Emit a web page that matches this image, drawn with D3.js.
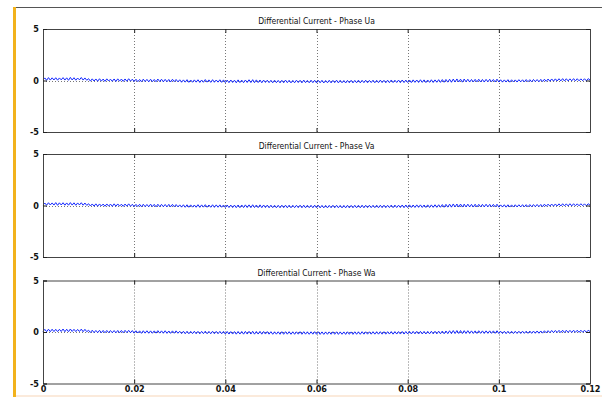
<!DOCTYPE html>
<html lang="en">
<head>
<meta charset="UTF-8">
<title>Differential Current</title>
<script src="https://d3js.org/d3.v7.min.js"></script>
<style>
  body { margin: 0; background: #fff; }
  svg { display: block; }
  .tick text { font-family: "DejaVu Sans Condensed", "Liberation Sans Narrow", Arial, sans-serif; font-size: 9px; font-weight: bold; fill: #111; }
  .title { font-family: "DejaVu Sans Condensed", "Liberation Sans Narrow", Arial, sans-serif; font-size: 8.5px; fill: #111; }
</style>
</head>
<body>
<div id="chart"></div>
<script>
// sample step of the traces, seconds
const sampleStep = 0.0004;

const panelTitles = [
  "Differential Current - Phase Ua",
  "Differential Current - Phase Va",
  "Differential Current - Phase Wa"
];
const xTicks = [0, 0.02, 0.04, 0.06, 0.08, 0.1, 0.12];
const xTickLabels = ["0", "0.02", "0.04", "0.06", "0.08", "0.1", "0.12"];
const yTicks = [-5, 0, 5];
const yTickLabels = ["-5", "0", "5"];

// differential current (one row = 0.01 s)
const uaDiff = [
  0.05,0.25,0.02,0.28,0.04,0.26,0.05,0.27,0.03,0.25,0.06,0.28,0.04,0.26,0.02,0.3,0.05,0.27,0.03,0.24,0.06,0.29,0.04,0.25,0.02,
  0.18,-0.06,0.16,-0.05,0.15,-0.07,0.17,-0.06,0.14,-0.08,0.16,-0.05,0.13,-0.07,0.15,-0.09,0.16,-0.06,0.14,-0.08,0.15,-0.07,0.17,-0.06,0.13,
  -0.1,0.12,-0.11,0.1,-0.12,0.13,-0.1,0.11,-0.13,0.12,-0.11,0.1,-0.12,0.14,-0.1,0.12,-0.13,0.11,-0.12,0.1,-0.14,0.12,-0.11,0.1,-0.13,
  0.07,-0.17,0.06,-0.16,0.08,-0.18,0.05,-0.17,0.06,-0.16,0.07,-0.19,0.05,-0.17,0.09,-0.16,0.06,-0.18,0.08,-0.17,0.05,-0.16,0.07,-0.18,0.06,
  -0.2,0.04,-0.21,0.05,-0.19,0.03,-0.22,0.06,-0.2,0.04,-0.21,0.05,-0.19,0.07,-0.2,0.08,-0.21,0.06,-0.2,0.05,-0.22,0.04,-0.19,0.03,-0.21,
  0.02,-0.22,0.03,-0.21,0.01,-0.23,0.02,-0.22,0.04,-0.21,0.02,-0.23,0.01,-0.22,0.03,-0.2,0.02,-0.23,0.04,-0.21,0.01,-0.22,0.03,-0.21,0.02,
  -0.23,0.01,-0.22,0.02,-0.24,0.0,-0.22,0.02,-0.23,0.01,-0.21,0.03,-0.23,0.02,-0.22,0.0,-0.24,0.01,-0.22,0.02,-0.23,0.01,-0.22,0.03,-0.23,
  0.02,-0.21,0.03,-0.22,0.01,-0.2,0.03,-0.22,0.02,-0.21,0.04,-0.2,0.02,-0.22,0.03,-0.21,0.05,-0.2,0.03,-0.19,0.04,-0.21,0.05,-0.2,0.04,
  -0.19,0.05,-0.2,0.06,-0.18,0.05,-0.19,0.07,-0.18,0.06,-0.2,0.05,-0.18,0.07,-0.19,0.06,-0.17,0.08,-0.18,0.09,-0.17,0.1,-0.16,0.12,-0.17,
  0.14,-0.15,0.15,-0.14,0.13,-0.16,0.14,-0.13,0.12,-0.15,0.1,-0.14,0.11,-0.13,0.12,-0.14,0.1,-0.15,0.11,-0.13,0.12,-0.12,0.1,-0.14,0.13,
  -0.15,0.07,-0.16,0.06,-0.15,0.08,-0.16,0.07,-0.14,0.06,-0.15,0.08,-0.13,0.07,-0.14,0.09,-0.12,0.08,-0.13,0.1,-0.11,0.09,-0.12,0.11,-0.1,
  0.12,-0.08,0.14,-0.07,0.15,-0.06,0.16,-0.05,0.17,-0.04,0.18,-0.05,0.17,-0.04,0.16,-0.03,0.18,-0.04,0.17,-0.03,0.16,-0.02,0.17,-0.03,0.18,
  0.05
];
const vaDiff = [
  0.04,0.24,0.03,0.27,0.05,0.25,0.04,0.28,0.02,0.26,0.05,0.27,0.03,0.25,0.03,0.28,0.04,0.26,0.02,0.25,0.05,0.27,0.03,0.24,0.01,
  0.17,-0.05,0.15,-0.06,0.16,-0.07,0.15,-0.05,0.14,-0.07,0.15,-0.06,0.14,-0.08,0.16,-0.07,0.15,-0.06,0.13,-0.08,0.14,-0.06,0.16,-0.07,0.12,
  -0.11,0.11,-0.1,0.12,-0.12,0.12,-0.11,0.1,-0.12,0.13,-0.1,0.11,-0.13,0.12,-0.11,0.11,-0.12,0.1,-0.13,0.11,-0.12,0.11,-0.12,0.09,-0.13,
  0.06,-0.16,0.07,-0.17,0.07,-0.17,0.06,-0.16,0.05,-0.17,0.08,-0.18,0.06,-0.16,0.08,-0.17,0.05,-0.17,0.07,-0.18,0.06,-0.17,0.06,-0.17,0.05,
  -0.19,0.05,-0.2,0.04,-0.2,0.04,-0.21,0.05,-0.21,0.05,-0.2,0.06,-0.2,0.06,-0.21,0.07,-0.2,0.05,-0.21,0.06,-0.21,0.05,-0.2,0.04,-0.22,
  0.03,-0.21,0.02,-0.22,0.02,-0.22,0.03,-0.21,0.03,-0.22,0.03,-0.22,0.02,-0.21,0.02,-0.21,0.03,-0.22,0.03,-0.22,0.02,-0.21,0.02,-0.22,0.03,
  -0.22,0.02,-0.23,0.01,-0.23,0.01,-0.23,0.01,-0.22,0.02,-0.22,0.02,-0.22,0.01,-0.23,0.01,-0.23,0.02,-0.23,0.01,-0.22,0.02,-0.22,0.02,-0.22,
  0.03,-0.22,0.02,-0.21,0.02,-0.21,0.02,-0.21,0.03,-0.22,0.03,-0.21,0.03,-0.21,0.02,-0.2,0.04,-0.21,0.04,-0.2,0.03,-0.2,0.05,-0.21,0.05,
  -0.2,0.06,-0.19,0.05,-0.19,0.06,-0.18,0.06,-0.19,0.05,-0.19,0.06,-0.19,0.06,-0.18,0.07,-0.18,0.07,-0.17,0.09,-0.17,0.11,-0.16,0.13,-0.16,
  0.15,-0.14,0.14,-0.15,0.14,-0.15,0.13,-0.14,0.13,-0.14,0.11,-0.15,0.12,-0.14,0.11,-0.13,0.11,-0.14,0.12,-0.13,0.11,-0.13,0.11,-0.13,0.12,
  -0.16,0.06,-0.15,0.07,-0.16,0.07,-0.15,0.06,-0.15,0.07,-0.14,0.07,-0.14,0.08,-0.13,0.08,-0.13,0.09,-0.12,0.09,-0.12,0.1,-0.11,0.1,-0.11,
  0.13,-0.07,0.13,-0.06,0.14,-0.06,0.15,-0.05,0.16,-0.05,0.17,-0.04,0.16,-0.04,0.17,-0.04,0.17,-0.03,0.16,-0.03,0.17,-0.02,0.16,-0.03,0.17,
  0.04
];
const waDiff = [
  0.05,0.26,0.03,0.27,0.03,0.27,0.04,0.26,0.04,0.26,0.05,0.29,0.03,0.27,0.03,0.29,0.05,0.26,0.04,0.25,0.05,0.28,0.03,0.26,0.03,
  0.17,-0.05,0.17,-0.06,0.15,-0.06,0.16,-0.07,0.15,-0.07,0.15,-0.06,0.14,-0.07,0.14,-0.08,0.15,-0.07,0.15,-0.07,0.16,-0.06,0.16,-0.07,0.14,
  -0.11,0.12,-0.1,0.11,-0.13,0.12,-0.11,0.12,-0.12,0.11,-0.12,0.11,-0.11,0.13,-0.11,0.11,-0.12,0.12,-0.13,0.1,-0.13,0.11,-0.12,0.11,-0.12,
  0.07,-0.16,0.07,-0.17,0.07,-0.17,0.06,-0.16,0.07,-0.17,0.06,-0.18,0.06,-0.16,0.08,-0.17,0.06,-0.17,0.07,-0.17,0.06,-0.17,0.06,-0.17,0.06,
  -0.2,0.05,-0.2,0.04,-0.2,0.04,-0.21,0.05,-0.2,0.05,-0.21,0.06,-0.2,0.06,-0.2,0.07,-0.21,0.05,-0.2,0.06,-0.21,0.05,-0.2,0.04,-0.21,
  0.03,-0.22,0.02,-0.21,0.02,-0.22,0.03,-0.22,0.03,-0.21,0.03,-0.22,0.02,-0.22,0.02,-0.21,0.03,-0.22,0.03,-0.21,0.02,-0.22,0.02,-0.21,0.03,
  -0.22,0.02,-0.23,0.01,-0.23,0.01,-0.22,0.01,-0.22,0.02,-0.22,0.02,-0.23,0.01,-0.22,0.01,-0.23,0.02,-0.22,0.01,-0.23,0.02,-0.22,0.02,-0.22,
  0.03,-0.21,0.02,-0.21,0.02,-0.21,0.03,-0.21,0.03,-0.21,0.03,-0.21,0.03,-0.21,0.03,-0.2,0.04,-0.21,0.04,-0.2,0.04,-0.2,0.05,-0.2,0.05,
  -0.19,0.06,-0.19,0.06,-0.18,0.06,-0.19,0.06,-0.19,0.06,-0.19,0.06,-0.18,0.07,-0.18,0.07,-0.18,0.08,-0.17,0.09,-0.17,0.1,-0.16,0.12,-0.16,
  0.14,-0.15,0.14,-0.14,0.14,-0.15,0.13,-0.14,0.13,-0.14,0.11,-0.14,0.11,-0.14,0.12,-0.13,0.11,-0.14,0.11,-0.13,0.11,-0.13,0.11,-0.13,0.12,
  -0.15,0.07,-0.15,0.07,-0.16,0.07,-0.15,0.07,-0.15,0.07,-0.14,0.07,-0.14,0.08,-0.13,0.08,-0.13,0.09,-0.13,0.09,-0.12,0.1,-0.12,0.1,-0.11,
  0.12,-0.08,0.13,-0.07,0.15,-0.06,0.15,-0.05,0.16,-0.05,0.17,-0.05,0.17,-0.04,0.16,-0.04,0.17,-0.03,0.17,-0.03,0.17,-0.02,0.17,-0.03,0.17,
  0.05
];
const seriesList = [uaDiff, vaDiff, waDiff];

const W = 602, H = 397;
const plotLeft = 43, plotRight = 590;
const panelTops = [29, 154, 280.5];
const panelH = 103;

const svg = d3.select('#chart').append('svg')
  .attr('width', W)
  .attr('height', H);

// window frame: grey top edge, orange left bar, pale bottom strip
svg.append('line')
  .attr('x1', 14).attr('x2', W).attr('y1', 7.5).attr('y2', 7.5)
  .style('stroke', '#555').style('stroke-width', 1);
svg.append('rect')
  .attr('x', 13).attr('y', 7).attr('width', 3).attr('height', H - 7)
  .attr('fill', '#f2b21c');
svg.append('rect')
  .attr('x', 16).attr('y', 395).attr('width', W - 16).attr('height', 2)
  .attr('fill', '#fbeadb');

const xScale = d3.scaleLinear()
  .domain([0, 0.12])
  .range([plotLeft, plotRight]);

seriesList.forEach(function(values, p) {
  const top = panelTops[p];
  const yScale = d3.scaleLinear()
    .domain([-5, 5])
    .range([top + panelH, top]);

  const g = svg.append('g');

  // dotted grid
  g.selectAll('.vgrid')
    .data(xTicks.slice(1, -1))
    .enter().append('line')
    .attr('x1', d => Math.round(xScale(d)) + 0.5)
    .attr('x2', d => Math.round(xScale(d)) + 0.5)
    .attr('y1', top).attr('y2', top + panelH)
    .style('stroke', '#777').style('stroke-width', 1)
    .style('stroke-dasharray', '1,2');
  g.append('line')
    .attr('x1', plotLeft).attr('x2', plotRight)
    .attr('y1', Math.round(yScale(0)) + 0.5).attr('y2', Math.round(yScale(0)) + 0.5)
    .style('stroke', '#777').style('stroke-width', 1)
    .style('stroke-dasharray', '1,2');

  // trace
  const line = d3.line()
    .x((d, i) => xScale(i * sampleStep))
    .y(d => yScale(d));
  g.append('path')
    .datum(values)
    .attr('d', line)
    .attr('fill', 'none')
    .style('stroke', '#1428ff')
    .style('stroke-width', 1);

  // axes with inward ticks
  const xAxisB = d3.axisBottom(xScale).tickValues(xTicks)
    .tickSize(-4).tickPadding(p === 2 ? 2 : 0)
    .tickFormat((d, i) => p === 2 ? xTickLabels[i] : '');
  const xAxisT = d3.axisTop(xScale).tickValues(xTicks)
    .tickSize(-4).tickFormat('');
  const yAxisL = d3.axisLeft(yScale).tickValues(yTicks)
    .tickSize(-4).tickPadding(4)
    .tickFormat((d, i) => yTickLabels[i]);
  const yAxisR = d3.axisRight(yScale).tickValues(yTicks)
    .tickSize(-4).tickFormat('');

  g.append('g').attr('transform', 'translate(0,' + (top + panelH) + ')').call(xAxisB);
  g.append('g').attr('transform', 'translate(0,' + top + ')').call(xAxisT);
  g.append('g').attr('transform', 'translate(' + plotLeft + ',0)').call(yAxisL);
  g.append('g').attr('transform', 'translate(' + plotRight + ',0)').call(yAxisR);

  g.selectAll('.domain').style('stroke', '#444').style('stroke-width', 1);
  g.selectAll('.tick line').style('stroke', '#222');

  g.append('text')
    .attr('class', 'title')
    .attr('x', (plotLeft + plotRight) / 2)
    .attr('y', top - 5)
    .attr('text-anchor', 'middle')
    .text(panelTitles[p]);
});
</script>
</body>
</html>
